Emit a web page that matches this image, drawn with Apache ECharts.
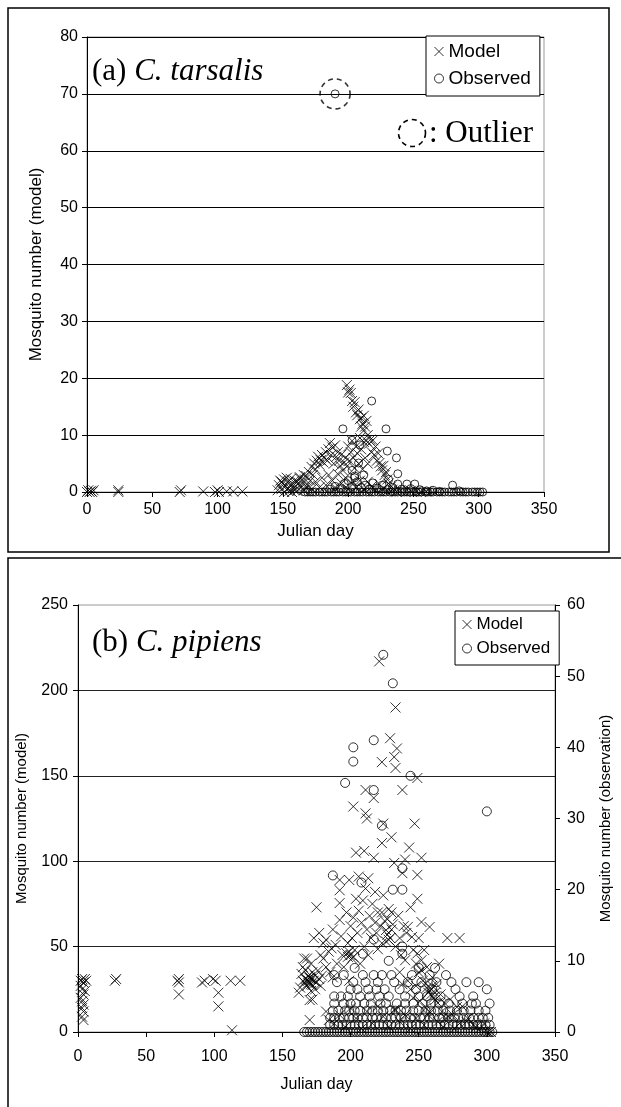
<!DOCTYPE html>
<html>
<head>
<meta charset="utf-8">
<script src="https://cdn.jsdelivr.net/npm/echarts@6/dist/echarts.min.js"></script>
<style>
  html, body { margin: 0; padding: 0; background: #fff; }
  #chart { width: 621px; height: 1107px; }
</style>
</head>
<body>
<div id="chart"></div>
<script>
// ---------- Axis ticks ----------
const dayTicks = [0, 50, 100, 150, 200, 250, 300, 350];
const tarsalisTicks = [0, 10, 20, 30, 40, 50, 60, 70, 80];
const pipiensModelTicks = [0, 50, 100, 150, 200, 250];
const pipiensObsTicks = [0, 10, 20, 30, 40, 50, 60];

// ---------- (a) C. tarsalis : [Julian day, mosquito number] ----------
const tarsalisModel = [
  [0,0],[1,0.3],[2,0],[3,0.2],[4,0],[5,0.3],[24,0],[24,0.3],[71,0],[72,0.3],
  [89,0.1],[98,0],[100,0.3],[101,0],[107,0.1],[112,0.1],[119,0.1],
  [146,0.3],[147,1.2],[148,2],[149,0.5],[149,1.8],[150,1.5],[151,0],[151,2.2],[152,1],
  [153,0.4],[153,2.5],[154,1.8],[155,0.8],[155,0.2],[156,2.3],[157,0],[157,1.3],[158,0.6],
  [159,2],[159,0.3],[160,1],[161,0.2],[161,1.8],[162,1.6],[163,2.4],[164,0.8],[165,1.4],
  [166,0.3],[167,2.2],[168,1],
  [163,2.6],[166,3],[168,2.8],[170,3.5],[171,2],[172,4.4],[173,3],[174,5],[175,4],[176,5.5],
  [177,6.2],[178,4.8],[179,5.6],[180,6.5],[181,5.2],[182,6],[183,7],[184,5.5],[185,7.5],
  [186,8.6],[187,6.5],[188,7.8],[189,5],[190,8.2],[191,6.2],[192,7],[193,5.5],[194,4.6],
  [195,6.6],[196,3.8],[197,5.2],
  [170,1],[172,0.5],[175,1.8],[178,0.8],[180,2.5],[183,1.2],[185,3],[188,2],[190,0.8],
  [192,3.2],[195,1.5],[198,2.5],
  [199,18.8],[200,17.5],[201,18],[202,17.4],[203,16],[204,15],[205,15.8],[206,14],[207,13.5],
  [208,14.5],[209,12.8],[210,13],[211,12],[212,13.4],[213,11.5],[214,12.5],[210,11.5],[212,10.8],
  [198,6],[199,4.5],[200,8],[201,5.5],[202,7],[203,9],[204,6],[205,4.2],[206,8],[207,6.8],
  [208,5],[209,9.5],[210,7.5],[211,4],[212,8.8],[213,6],[214,9],[215,5],
  [215,10],[216,8.5],[217,9.2],[218,7],[219,9.1],[220,6.5],[221,8],[222,5.5],[223,6.8],
  [224,5.1],[225,4.5],[226,3.8],[227,4.6],[228,3],[229,3.5],[230,2.2],[231,1.5],[233,1],
  [200,0.5],[203,1.5],[206,0.8],[209,2],[212,0.4],[215,1.8],[218,1],[221,0.3],[224,1.4],
  [227,0.6],[230,0.2],[234,0.4],[237,0.1],[240,0.3],[244,0],[248,0.2],[252,0.1],[256,0],[260,0.1]
];

const tarsalisOutlier = [190, 70];

const tarsalisObserved = [
  tarsalisOutlier,
  [167,0],[169,0],[171,0],[173,0],[175,0],[178,0],[180,0],[182,0],[184,0],[187,0],[189,0],
  [191,0],[193,0],[196,0],[198,0],[200,0],[202,0],[205,0],[207,0],[209,0],[211,0],[214,0],
  [216,0],[218,0],[220,0],[223,0],[225,0],[227,0],[229,0],[232,0],[234,0],[236,0],[238,0],
  [241,0],[243,0],[245,0],[247,0],[250,0],[252,0],[254,0],[256,0],[259,0],[261,0],[263,0],
  [265,0],[268,0],[270,0],[272,0],[274,0],[277,0],[279,0],[281,0],[283,0],[286,0],[288,0],
  [290,0],[292,0],[295,0],[297,0],[299,0],[301,0],[303,0],
  [186,0.5],[190,1],[194,0.6],[197,1.5],[200,2],[203,1],[205,2.5],[207,1.8],[210,0.8],
  [213,1.2],[216,0.5],[219,1.6],[222,0.7],[226,1.2],[230,0.4],[234,0.8],[238,1.4],[241,0.5],
  [245,1.4],[248,0.6],[251,1.4],[255,0.4],[260,0.2],[265,0.3],[270,0.1],[280,1.2],[285,0.2],
  [196,11.1],[218,16],[229,11.1],[230,7.2],[237,6],[238,3.2],[231,2.2],[203,9.1],[209,8.3],
  [208,5.1],[203,3.8],[205,2.8],[212,3]
];

// ---------- (b) C. pipiens, model (left axis) ----------
const pipiensModel = [
  [2,30],[3,31],[4,29],[2,27],[3,25],[4,22],[2,20],[3,18],[4,16],[3,14],[4,12],[3,9],[4,7],
  [5,31],[6,30],[5,24],[27,30],[28,31],[73,30],[74,31],[74,29],[74,22],[91,29],[93,30],
  [99,31],[101,30],[103,23],[103,15],[112,30],[119,30],[113,1],
  [162,23],[163,26],[164,34],[165,38],[165,30],[166,29],[166,43],[167,31],[167,36],[168,27],
  [168,43],[169,28.7],[169,33],[169,30],[170,31.6],[170,29],[170,32],[170,18.7],[170,7],
  [171,24],[171,40],[171,31],[171,28],[168,30.5],[172,27.5],[172,19],[172,35],[173,55],
  [173,30],[174,33],[174,25],[175,73],[175,29],[176,36],[177,58],[177,31],[178,27],[178,45],
  [179,33],[180,43],[180,52],[182,54],[182,38],[184,47],[185,35],[186,49],[187,32],[187,60],
  [189,51],[190,40],[192,89],[192,83],[192,75.5],[192,65.6],[193,56],[194,45],[195,38],
  [197,70],[197,46],[198,52],[198,44],[199,89],[199,47],[199,30],[200,62],[200,45],[201,55],
  [201,43],[202,67],[202,44],[202,132],[203,48],[204,105],[204,78],[205,58],[206,91],[206,71],
  [207,40],[208,64],[209,77],[210,106],[210,50],[211,84],[211,141.7],[211,128],[212,125],
  [212,60],[213,90],[213,45],[214,68],[215,55],[216,75],[217,102],[217,137],[218,82],[218,64],
  [219,58],[220,48.5],[220,70],[221,217],[222,62],[223,110.6],[223,70],[223,52],[223,158],
  [224,80],[224,122],[225,65],[226,59.7],[226,53],[227,66],[227,57],[228,54],[228,72],
  [229,172],[229,55],[230,114],[230,70],[230,60],[231,63],[232,161],[232,99],[233,190],
  [233,154.6],[233,50],[234,166],[235,68],[236,55],[237,45],[238,141.7],[238,93],[239,62],
  [240,101],[241,58],[242,61.5],[243,108],[244,73],[245,55.6],[246,48],[247,122],[248,40],
  [249,148.7],[249,92],[249,78],[249,46],[250,35],[252,102],[252,64.4],[252,42],[252,36],
  [253,30],[255,28.7],[256,38],[256,26],[257,23],[258,61.5],[258,24],[259,25],[259,22],
  [260,32],[260,27],[261,20],[262,18.7],[262,23],[263,28],[264,17],[265,40],[266,22],
  [267,12],[269,17],[270,8],[271,55],[273,19],[275,10],[278,14.6],[280,55],[282,15],
  [285,6],[290,4],[295,2],[299,1],[303,0],
  [236,35],[238,28],[240,42],[242,30],[244,25],[246,20],[248,27],[250,55],[251,18],
  [254,48],[255,14],[257,10],
  [182,12],[184,7],[188,5],[192,10],[196,3],[200,14],[204,8],[208,2],[212,12],[216,5],
  [220,15],[224,9],[228,3],[232,13],[233,13],[236,6],[240,10],[244,2],[248,8],[254,4],
  [258,12],[264,6],[268,3],[272,9],[276,2],[280,5],[286,8],[292,3],[298,5],[301,0]
];

// ---------- (b) C. pipiens, observed (right axis) ----------
const pipiensObservedHigh = [
  [224,53],[231,49],[217,41],[202,40],[202,38],[196,35],[244,36],[217,34],[223,29],[300,31],
  [187,22],[208,21],[238,23],[231,20],[238,20],[217,13],[209,11],[238,12],[238,11],
  [250,9],[228,10],[203,9],[262,9],[285,7],[289,4],[294,7],[302,4]
];
// daily counts: [count, days on which that count was trapped]
const pipiensCountRows = [
  [8, [188,195,209,217,223,230,245,258,270]],
  [7, [190,202,211,220,232,242,252,263,274]],
  [6, [200,205,213,219,225,236,248,260,277,300]],
  [5, [188,193,198,207,214,221,228,240,250,256,266,280,290]],
  [4, [188,195,200,204,210,215,222,226,234,240,246,253,259,265,272,282,292]],
  [3, [187,191,196,199,203,207,212,216,220,224,229,233,237,241,246,250,255,259,264,268,273,
       278,283,288,294,299]],
  [2, [185,188,192,195,199,202,205,209,212,216,219,223,226,230,233,237,240,244,247,251,254,
       258,261,265,268,272,276,279,283,287,290,294,297,301]],
  [1, [185,188,191,194,197,200,203,206,209,212,215,218,221,224,227,230,233,236,239,242,245,
       248,251,254,257,260,263,266,269,272,275,278,281,284,287,290,293,296,299,302]],
  [0, [166,168,170,172,174,176,178,180,182,184,186,188,190,192,194,196,198,200,202,204,206,
       208,210,212,214,216,218,220,222,224,226,228,230,232,234,236,238,240,242,244,246,248,
       250,252,254,256,258,260,262,264,266,268,270,272,274,276,278,280,282,284,286,288,290,
       292,294,296,298,300,302,304]]
];

const pipiensObserved = pipiensObservedHigh.concat(
  ...pipiensCountRows.map(([count, days]) => days.map(d => [d, count]))
);

// ---------- Styling ----------
const SANS = '"Liberation Sans", Arial, sans-serif';
const SERIF = '"Liberation Serif", "Times New Roman", serif';
const CROSS = 'path://M0,0L10,10M10,0L0,10';

const crossStyle = { color: 'rgba(0,0,0,0)', borderColor: '#000', borderWidth: 1 };
const ringStyle = { color: 'rgba(0,0,0,0)', borderColor: '#000', borderWidth: 1 };

function xAxisFor(gridIndex, nameGap, labelMargin, nameSize) {
  return {
    gridIndex, type: 'value', min: 0, max: 350, interval: 50,
    name: 'Julian day', nameLocation: 'middle', nameGap,
    nameTextStyle: { fontFamily: SANS, fontSize: nameSize, color: '#000' },
    axisLine: { show: true, onZero: false, lineStyle: { color: '#000', width: 1 } },
    axisTick: { show: true, length: 5, lineStyle: { color: '#000' } },
    axisLabel: { fontFamily: SANS, fontSize: 16, color: '#000', margin: labelMargin },
    splitLine: { show: false }
  };
}

function scatter(name, xi, yi, data, symbol, size, style) {
  return {
    type: 'scatter', name, xAxisIndex: xi, yAxisIndex: yi, data,
    symbol, symbolSize: size, itemStyle: style,
    emphasis: { disabled: true }, silent: true, animation: false
  };
}

function legendAt(left, top, fontSize, padding, itemGap) {
  return {
    left, top, orient: 'vertical',
    data: [{ name: 'Model', icon: CROSS }, { name: 'Observed', icon: 'circle' }],
    itemWidth: 9, itemHeight: 9, itemGap, itemTextGap: 5,
    padding,
    backgroundColor: '#fff', borderColor: '#000', borderWidth: 1, borderRadius: 0,
    itemStyle: { color: 'rgba(0,0,0,0)', borderColor: '#000', borderWidth: 1 },
    textStyle: { fontFamily: SANS, fontSize, color: '#000' },
    selectedMode: false
  };
}

const option = {
  backgroundColor: '#fff',
  animation: false,
  grid: [
    { left: 87, top: 37, width: 457, height: 455, show: true, borderColor: '#999', borderWidth: 1, backgroundColor: '#fff' },
    { left: 78, top: 605, width: 484, height: 427, show: true, borderColor: '#999', borderWidth: 1, backgroundColor: '#fff' }
  ],
  xAxis: [
    xAxisFor(0, 31, 10, 17),
    xAxisFor(1, 45, 17, 16)
  ],
  yAxis: [
    {
      gridIndex: 0, type: 'value', min: 0, max: 80, interval: 10,
      name: 'Mosquito number (model)', nameLocation: 'middle', nameGap: 42,
      nameTextStyle: { fontFamily: SANS, fontSize: 17, color: '#000' },
      axisLine: { show: true, lineStyle: { color: '#000', width: 1 } },
      axisTick: { show: true, length: 5, lineStyle: { color: '#000' } },
      axisLabel: { fontFamily: SANS, fontSize: 16, color: '#000', margin: 9 },
      splitLine: { show: true, showMinLine: false, showMaxLine: true, lineStyle: { color: '#000', width: 1 } }
    },
    {
      gridIndex: 1, type: 'value', min: 0, max: 250, interval: 50,
      name: 'Mosquito number (model)', nameLocation: 'middle', nameGap: 49,
      nameTextStyle: { fontFamily: SANS, fontSize: 15, color: '#000' },
      axisLine: { show: true, lineStyle: { color: '#000', width: 1 } },
      axisTick: { show: true, length: 5, lineStyle: { color: '#000' } },
      axisLabel: { fontFamily: SANS, fontSize: 16, color: '#000', margin: 10 },
      splitLine: { show: true, showMinLine: false, showMaxLine: false, lineStyle: { color: '#222', width: 1 } }
    },
    {
      gridIndex: 1, type: 'value', position: 'right', min: 0, max: 60, interval: 10,
      name: 'Mosquito number (observation)', nameLocation: 'middle', nameGap: 43, nameRotate: 90,
      nameTextStyle: { fontFamily: SANS, fontSize: 15, color: '#000' },
      axisLine: { show: true, lineStyle: { color: '#000', width: 1 } },
      axisTick: { show: true, length: 5, lineStyle: { color: '#000' } },
      axisLabel: { fontFamily: SANS, fontSize: 16, color: '#000', margin: 12 },
      splitLine: { show: false }
    }
  ],
  legend: [
    legendAt(426, 36, 19, [6, 9, 8, 8], 8),
    legendAt(455, 611, 17, [5, 9, 8, 7], 7)
  ],
  series: [
    scatter('Model', 0, 0, tarsalisModel, CROSS, 10, crossStyle),
    scatter('Observed', 0, 0, tarsalisObserved, 'circle', 8, ringStyle),
    Object.assign(
      scatter('Outlier ring', 0, 0, [tarsalisOutlier], 'circle', 30,
        { color: 'rgba(0,0,0,0)', borderColor: '#000', borderWidth: 1.6, borderType: [5, 4] }),
      { z: 3 }
    ),
    scatter('Model', 1, 1, pipiensModel, CROSS, 10, crossStyle),
    scatter('Observed', 1, 2, pipiensObserved, 'circle', 9, ringStyle)
  ],
  graphic: [
    // panel frames
    { type: 'rect', shape: { x: 8, y: 8, width: 601, height: 544 }, style: { fill: 'none', stroke: '#000', lineWidth: 1.5 }, silent: true, z: -10 },
    { type: 'rect', shape: { x: 8, y: 558, width: 640, height: 600 }, style: { fill: 'none', stroke: '#000', lineWidth: 1.5 }, silent: true, z: -10 },
    // panel titles
    {
      type: 'text', left: 92, top: 56, silent: true, z: 10,
      style: {
        text: '{n|(a) }{i|C. tarsalis}',
        rich: {
          n: { fontFamily: SERIF, fontSize: 31, fill: '#000' },
          i: { fontFamily: SERIF, fontSize: 31, fontStyle: 'italic', fill: '#000' }
        }
      }
    },
    {
      type: 'text', left: 92, top: 627, silent: true, z: 10,
      style: {
        text: '{n|(b) }{i|C. pipiens}',
        rich: {
          n: { fontFamily: SERIF, fontSize: 31, fill: '#000' },
          i: { fontFamily: SERIF, fontSize: 31, fontStyle: 'italic', fill: '#000' }
        }
      }
    },
    // outlier key
    { type: 'circle', shape: { cx: 412, cy: 133, r: 13.5 }, style: { fill: 'none', stroke: '#000', lineWidth: 1.6, lineDash: [5, 4] }, silent: true, z: 10 },
    {
      type: 'text', left: 429, top: 118, silent: true, z: 10,
      style: { text: ': Outlier', fontFamily: SERIF, fontSize: 31, fill: '#000' }
    }
  ]
};

const chart = echarts.init(document.getElementById('chart'), null, { renderer: 'canvas' });
chart.setOption(option);
</script>
</body>
</html>
